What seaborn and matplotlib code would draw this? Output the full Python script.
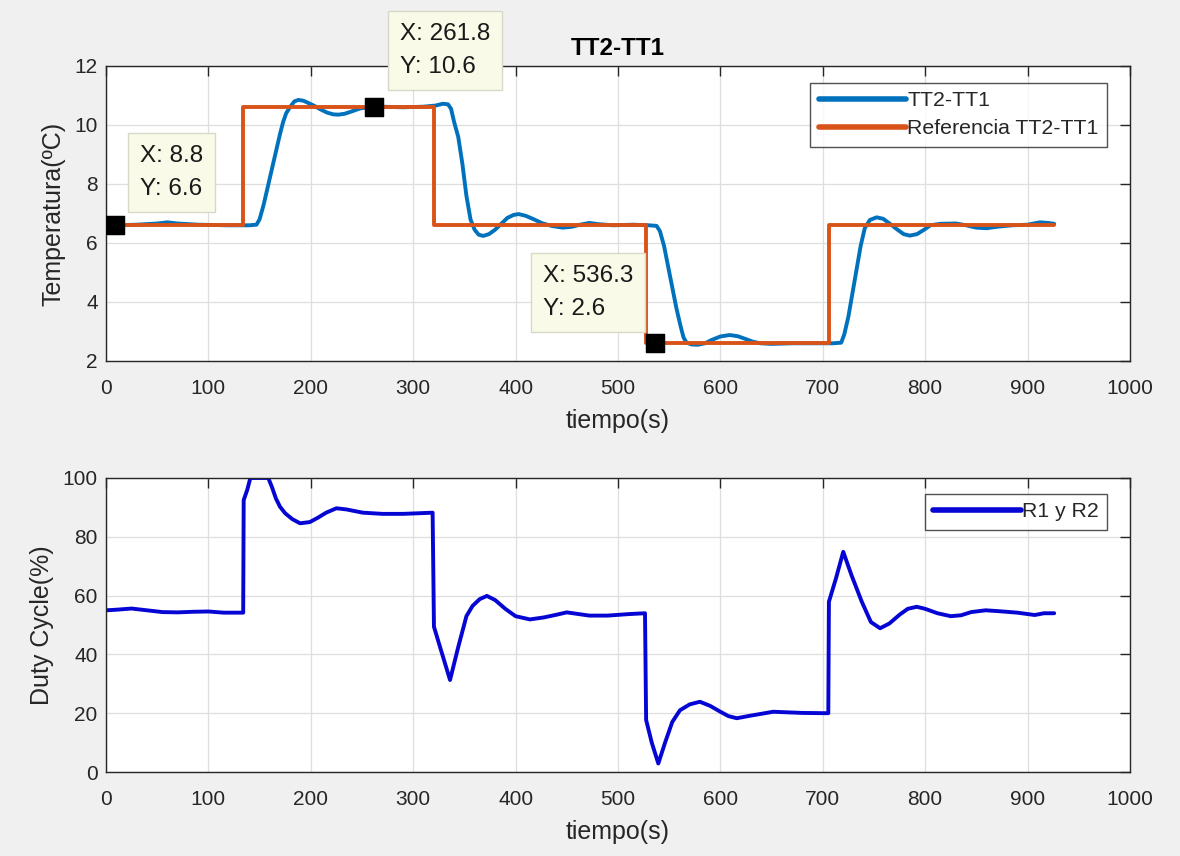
import matplotlib
matplotlib.use("Agg")
import matplotlib.pyplot as plt
import seaborn as sns
import pandas as pd

# --- Temperature difference TT2-TT1 (ºC) ---
t_temp = [0, 10, 30, 50, 60, 70, 90, 120, 140, 147, 150, 154, 158, 162, 166, 170, 173,
          176, 180, 184, 188, 193, 198, 204, 210, 216, 222, 227, 233, 240, 248, 256, 270,
          290, 310, 322, 329, 334, 337, 340, 344, 348, 352, 356, 360, 364, 368.5, 374,
          380, 386, 392, 398, 403, 410, 418, 426, 435, 446, 455, 463, 472, 480, 495, 515,
          530, 537.7, 541, 545, 549, 553, 557, 561, 564, 567, 572, 578, 585, 592, 600,
          609, 617, 625, 632, 639, 650, 670, 690, 710, 718, 721, 725, 729, 733, 737, 741,
          746, 752.6, 759, 766, 773, 779, 785, 792, 799, 805, 815, 830, 840, 850, 860,
          870, 885, 900, 912, 920, 926]
tt_diff = [6.6, 6.6, 6.62, 6.66, 6.7, 6.66, 6.62, 6.6, 6.6, 6.62, 6.8, 7.3, 7.9, 8.5, 9.1,
           9.7, 10.1, 10.4, 10.62, 10.8, 10.85, 10.82, 10.74, 10.64, 10.52, 10.42, 10.36,
           10.35, 10.38, 10.46, 10.56, 10.6, 10.62, 10.6, 10.62, 10.66, 10.72, 10.7, 10.55,
           10.1, 9.6, 8.7, 7.6, 6.8, 6.45, 6.28, 6.24, 6.3, 6.45, 6.65, 6.85, 6.95, 6.98,
           6.92, 6.8, 6.67, 6.58, 6.52, 6.55, 6.62, 6.68, 6.64, 6.6, 6.62, 6.6, 6.58, 6.4,
           5.9, 5.2, 4.5, 3.8, 3.2, 2.8, 2.62, 2.56, 2.55, 2.6, 2.72, 2.83, 2.88, 2.84,
           2.74, 2.65, 2.6, 2.58, 2.6, 2.6, 2.6, 2.62, 2.9, 3.5, 4.3, 5.1, 5.9, 6.5, 6.78,
           6.87, 6.82, 6.64, 6.45, 6.3, 6.25, 6.3, 6.45, 6.6, 6.65, 6.66, 6.6, 6.52, 6.5,
           6.55, 6.6, 6.62, 6.7, 6.68, 6.65]

# --- Setpoint (step reference) ---
t_ref = [0, 134, 134, 320, 320, 527.5, 527.5, 706, 706, 926]
ref = [6.6, 6.6, 10.6, 10.6, 6.6, 6.6, 2.6, 2.6, 6.6, 6.6]

# --- Data tips ---
tip_x = [8.8, 261.8, 536.3]
tip_y = [6.6, 10.6, 2.6]

# --- Duty cycle of R1 y R2 (%) ---
t_duty = [0, 10, 25, 40, 55, 70, 85, 100, 115, 134, 134.5, 138, 141, 158.5, 162, 166,
          170, 175, 182, 189.5, 199, 207, 215, 225, 235, 245, 251, 270, 290, 305, 319,
          320.3, 328, 336, 344, 352, 358, 365, 372, 380, 390, 400, 414, 428, 440, 450,
          460, 472, 490, 510, 526.4, 527.5, 533, 539.4, 546, 553, 560.5, 570, 580, 590,
          600, 608, 616, 630, 651.6, 680, 705.4, 706, 713, 720, 728, 738, 747, 756, 765,
          775, 783, 791.7, 800, 812, 825, 835, 845, 859, 872, 890, 907, 916, 926]
duty = [55, 55.2, 55.6, 55, 54.4, 54.3, 54.5, 54.6, 54.2, 54.2, 92.5, 96, 100, 100, 97,
        93, 90.2, 88, 86, 84.6, 85, 86.5, 88.2, 89.7, 89.3, 88.6, 88.2, 87.8, 87.8, 88,
        88.2, 49.4, 40.5, 31.3, 42.5, 53, 56.5, 58.8, 59.9, 58.5, 55.5, 53, 51.9, 52.6,
        53.5, 54.3, 53.8, 53.2, 53.2, 53.7, 54, 17.7, 10, 2.9, 10, 17, 21, 23, 23.9,
        22.5, 20.5, 19, 18.3, 19.2, 20.5, 20.1, 20, 57.9, 66, 74.9, 67, 58, 51, 48.9,
        50.5, 53.5, 55.5, 56.2, 55.5, 54, 53, 53.3, 54.4, 55, 54.7, 54.2, 53.4, 54, 54]

sns.set_theme(style="white")
plt.rcParams["font.family"] = ["Liberation Sans", "DejaVu Sans"]
plt.rcParams["axes.unicode_minus"] = False

BG = "#f0f0f0"
DARK = "#262626"
BLUE_M = "#0072BD"
ORANGE_M = "#D95319"
BLUE = "#0505d4"

fig = plt.figure(figsize=(11.8, 8.56), dpi=100, facecolor=BG)
ax1 = fig.add_axes([0.0898, 0.5783, 0.8678, 0.3446])
ax2 = fig.add_axes([0.0898, 0.0981, 0.8678, 0.3435])


def style_axes(ax):
    ax.set_facecolor("white")
    ax.set_xlim(0, 1000)
    ax.set_xticks(range(0, 1001, 100))
    ax.grid(True, color="#dedede", linewidth=0.9)
    ax.set_axisbelow(True)
    for s in ax.spines.values():
        s.set_color(DARK)
        s.set_linewidth(1.0)
        s.set_visible(True)
    ax.tick_params(direction="in", top=True, right=True, length=7, width=1,
                   color=DARK, labelcolor=DARK, labelsize=15)
    ax.tick_params(axis="x", pad=13)
    ax.tick_params(axis="y", pad=6)


def style_legend(leg):
    leg.get_frame().set_edgecolor(DARK)
    leg.get_frame().set_linewidth(1.0)
    for line in leg.get_lines():
        line.set_linewidth(4)


df_temp = pd.DataFrame({"t": t_temp, "v": tt_diff})
df_ref = pd.DataFrame({"t": t_ref, "v": ref})
df_tip = pd.DataFrame({"t": tip_x, "v": tip_y})
df_duty = pd.DataFrame({"t": t_duty, "v": duty})

# upper panel: temperature difference and its setpoint
sns.lineplot(data=df_temp, x="t", y="v", ax=ax1, color=BLUE_M, linewidth=2.8,
             sort=False, estimator=None, label="TT2-TT1")
sns.lineplot(data=df_ref, x="t", y="v", ax=ax1, color=ORANGE_M, linewidth=2.8,
             sort=False, estimator=None, label="Referencia TT2-TT1")
sns.scatterplot(data=df_tip, x="t", y="v", ax=ax1, marker="s", s=170, color="black",
                edgecolor="black", zorder=5, legend=False)

style_axes(ax1)
ax1.set_ylim(2, 12)
ax1.set_yticks(range(2, 13, 2))
ax1.set_xlabel("tiempo(s)", fontsize=18, color=DARK, labelpad=8)
ax1.set_ylabel("Temperatura(ºC)", fontsize=18, color=DARK, labelpad=6)
ax1.set_title("TT2-TT1", fontsize=17.5, fontweight="bold", color="black", pad=8)

leg1 = ax1.legend(loc="upper right", bbox_to_anchor=(0.9775, 0.9424), borderaxespad=0,
                  fontsize=15.3, frameon=True, fancybox=False, handlelength=4.1,
                  handletextpad=0.05, borderpad=0.4, labelspacing=0.42)
style_legend(leg1)

# data tip boxes
tip_offsets = [(18, 18, "left"), (18.7, 20.9, "left"), (-15.9, 16.6, "right")]
for x, y, (dx, dy, ha) in zip(tip_x, tip_y, tip_offsets):
    ax1.annotate(f"X: {x:g}\nY: {y:g}", xy=(x, y), xytext=(dx, dy),
                 textcoords="offset points", ha=ha, va="bottom", multialignment="left",
                 fontsize=17.5, color="#1a1a1a", linespacing=1.65, zorder=6,
                 annotation_clip=False,
                 bbox=dict(boxstyle="square,pad=0.5", facecolor="#fafae8",
                           edgecolor="#d8d8c8", linewidth=1.0))

# lower panel: duty cycle
sns.lineplot(data=df_duty, x="t", y="v", ax=ax2, color=BLUE, linewidth=2.8,
             sort=False, estimator=None, label="R1 y R2")
style_axes(ax2)
ax2.set_ylim(0, 100)
ax2.set_yticks(range(0, 101, 20))
ax2.set_xlabel("tiempo(s)", fontsize=18, color=DARK, labelpad=8)
ax2.set_ylabel("Duty Cycle(%)", fontsize=18, color=DARK, labelpad=6)

leg2 = ax2.legend(loc="upper right", bbox_to_anchor=(0.9775, 0.9456), borderaxespad=0,
                  fontsize=15.3, frameon=True, fancybox=False, handlelength=4.1,
                  handletextpad=0.05, borderpad=0.4)
style_legend(leg2)

fig.savefig("out.png", dpi=100, facecolor=BG)
